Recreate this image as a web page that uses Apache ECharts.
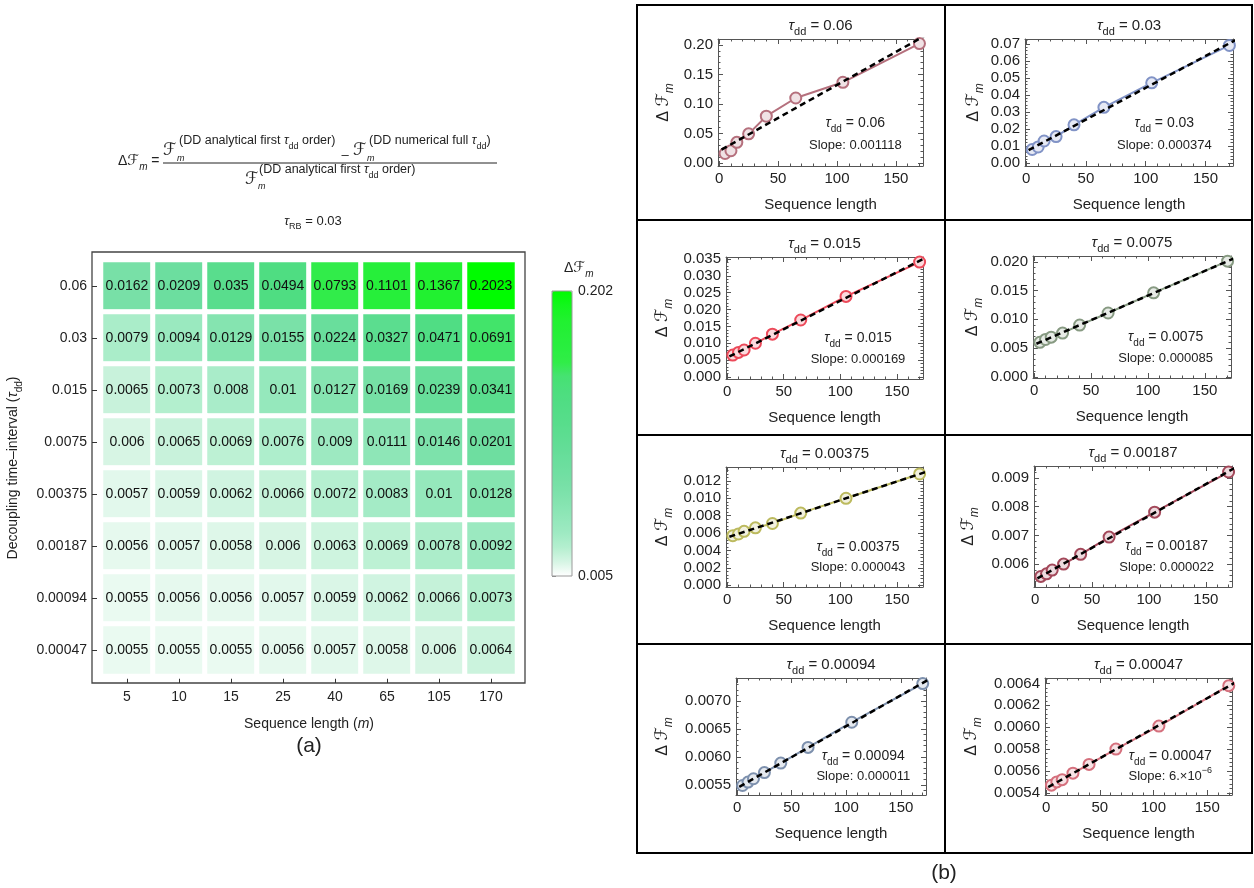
<!DOCTYPE html>
<html>
<head>
<meta charset="utf-8">
<script src="https://cdn.jsdelivr.net/npm/echarts@6/dist/echarts.min.js"></script>
<style>
html, body { margin: 0; background: #fff; }
#main { width: 1254px; height: 888px; }
</style>
</head>
<body>
<div id="main"></div>
<script>
var FF = '"Liberation Sans", Arial, Helvetica, sans-serif';
var SCRIPT = '"DejaVu Sans", "Liberation Sans", sans-serif';

// sequence lengths m and decoupling intervals (top to bottom)
var seqLen = [5, 10, 15, 25, 40, 65, 105, 170];
var tauLabels = ['0.06', '0.03', '0.015', '0.0075', '0.00375', '0.00187', '0.00094', '0.00047'];

// (a) values printed in the heatmap cells, one row per tau_dd
var heat006 = [0.0162, 0.0209, 0.035, 0.0494, 0.0793, 0.1101, 0.1367, 0.2023];
var heat003 = [0.0079, 0.0094, 0.0129, 0.0155, 0.0224, 0.0327, 0.0471, 0.0691];
var heat0015 = [0.0065, 0.0073, 0.008, 0.01, 0.0127, 0.0169, 0.0239, 0.0341];
var heat00075 = [0.006, 0.0065, 0.0069, 0.0076, 0.009, 0.0111, 0.0146, 0.0201];
var heat000375 = [0.0057, 0.0059, 0.0062, 0.0066, 0.0072, 0.0083, 0.01, 0.0128];
var heat000187 = [0.0056, 0.0057, 0.0058, 0.006, 0.0063, 0.0069, 0.0078, 0.0092];
var heat000094 = [0.0055, 0.0056, 0.0056, 0.0057, 0.0059, 0.0062, 0.0066, 0.0073];
var heat000047 = [0.0055, 0.0055, 0.0055, 0.0056, 0.0057, 0.0058, 0.006, 0.0064];
var heatRows = [heat006, heat003, heat0015, heat00075, heat000375, heat000187, heat000094, heat000047];
var cbTicks = [0.005, 0.202];

// (b) points of the small panels
var pts006 = [0.0162, 0.0209, 0.035, 0.0494, 0.0793, 0.1101, 0.1367, 0.2023];
var pts003 = [0.0079, 0.0094, 0.0129, 0.0155, 0.0224, 0.0327, 0.0471, 0.0691];
var pts0015 = [0.0065, 0.0073, 0.008, 0.01, 0.0127, 0.0169, 0.0239, 0.0341];
var pts00075 = [0.006, 0.0065, 0.0069, 0.0076, 0.009, 0.0111, 0.0146, 0.0201];
var pts000375 = [0.0057, 0.0059, 0.0062, 0.0066, 0.0071, 0.0083, 0.01, 0.0128];
var pts000187 = [0.00557, 0.00566, 0.00579, 0.006, 0.00634, 0.00694, 0.00781, 0.00921];
var pts000094 = [0.00549, 0.00555, 0.00561, 0.00572, 0.00589, 0.00617, 0.00662, 0.00731];
var pts000047 = [0.00547, 0.0055, 0.00552, 0.00558, 0.00566, 0.0058, 0.00601, 0.00638];
var panelPts = [pts006, pts003, pts0015, pts00075, pts000375, pts000187, pts000094, pts000047];
var slopeLabels = ['0.001118', '0.000374', '0.000169', '0.000085', '0.000043', '0.000022', '0.000011', '6.\u00d710{u|\u22126}'];

var xTickLabels = ['0', '50', '100', '150'];
var yTickLabels = [
  ['0.00', '0.05', '0.10', '0.15', '0.20'],
  ['0.00', '0.01', '0.02', '0.03', '0.04', '0.05', '0.06', '0.07'],
  ['0.000', '0.005', '0.010', '0.015', '0.020', '0.025', '0.030', '0.035'],
  ['0.000', '0.005', '0.010', '0.015', '0.020'],
  ['0.000', '0.002', '0.004', '0.006', '0.008', '0.010', '0.012'],
  ['0.006', '0.007', '0.008', '0.009'],
  ['0.0055', '0.0060', '0.0065', '0.0070'],
  ['0.0054', '0.0056', '0.0058', '0.0060', '0.0062', '0.0064']
];

// layout of the small panels: frame left, top, width, height
var panelBox = [
  [718, 39, 205, 127], [1025, 39, 208, 127],
  [726, 257, 197, 122], [1033, 256, 198, 122],
  [726, 467, 197, 120], [1034, 466, 198, 121],
  [736, 678, 190, 117], [1045, 678, 187, 117]
];
var yExtent = [[-0.005, 0.21], [-0.0018, 0.0729], [-0.0006, 0.0356], [-0.0002, 0.021],
  [-0.0002, 0.0136], [0.0052, 0.00942], [0.00532, 0.00741], [0.00538, 0.00645]];
var xExtent = [-1, 173];
var yNameGap = [42, 39, 51, 48, 51, 53, 61, 61];
var lineColors = ['#b5707d', '#8193c6', '#ec4a5a', '#879a82', '#bcba5e', '#a3485a', '#7d90ad', '#d5707d'];

var heatColors = ['#ffffff', '#d6f5e4', '#b4efcf', '#9feac3', '#92e7ba', '#86e4b1', '#7be1a9',
  '#72dfa3', '#6ade9d', '#63dd97', '#5cdd90', '#56dd8a', '#51dd85', '#4cde7e', '#46e272',
  '#30ed48', '#29ee3f', '#25ef38', '#20f12f', '#12f61c', '#00fc00'];

function rich(size) {
  var sub = Math.round(size * 0.72);
  return {
    i: { fontSize: size, fontFamily: FF, fontStyle: 'italic', lineHeight: size + 8, color: '#222' },
    d: { fontSize: size, fontFamily: FF, lineHeight: size + 8, color: '#222' },
    F: { fontSize: size + 1, fontFamily: SCRIPT, fontStyle: 'italic', lineHeight: size + 8, color: '#222' },
    s: { fontSize: sub, fontFamily: FF, lineHeight: sub, verticalAlign: 'bottom', color: '#222' },
    si: { fontSize: sub, fontFamily: FF, fontStyle: 'italic', lineHeight: sub, verticalAlign: 'bottom', color: '#222' },
    u: { fontSize: sub, fontFamily: FF, lineHeight: sub, verticalAlign: 'top', color: '#222' }
  };
}

function txt(text, x, y, size, align, extra) {
  var st = {
    text: text, x: x, y: y, fontSize: size, fontFamily: FF, fill: '#222',
    align: align || 'left', verticalAlign: 'middle',
    textAlign: align || 'left', textVerticalAlign: 'middle',
    lineHeight: size + 8, rich: rich(size)
  };
  if (extra) for (var k in extra) st[k] = extra[k];
  return { type: 'text', silent: true, style: st };
}

function minorTicks(major, lo, hi) {
  var step = (major[1] - major[0]) / 5, out = [];
  var k0 = Math.ceil((lo - major[0]) / step - 1e-9);
  for (var k = k0; major[0] + k * step <= hi + step * 1e-6; k++) {
    if (k % 5 !== 0) out.push(+(major[0] + k * step).toPrecision(10));
  }
  return out;
}

function lsq(xs, ys) {
  var n = xs.length, mx = 0, my = 0, sxx = 0, sxy = 0;
  for (var i = 0; i < n; i++) { mx += xs[i] / n; my += ys[i] / n; }
  for (var j = 0; j < n; j++) { sxx += (xs[j] - mx) * (xs[j] - mx); sxy += (xs[j] - mx) * (ys[j] - my); }
  var b = sxy / sxx;
  return { a: my - b * mx, b: b };
}

function tint(hex, t) {
  var r = parseInt(hex.substr(1, 2), 16), g = parseInt(hex.substr(3, 2), 16), b = parseInt(hex.substr(5, 2), 16);
  function m(c) { return Math.round(c + (255 - c) * t); }
  return 'rgb(' + m(r) + ',' + m(g) + ',' + m(b) + ')';
}

var grids = [], xAxes = [], yAxes = [], series = [], graphics = [];

// ---------- (a) heatmap ----------
grids.push({ left: 101, top: 260, width: 416, height: 416 });
xAxes.push({
  type: 'category', gridIndex: 0, data: seqLen.map(String), offset: 7,
  axisLine: { show: false },
  axisTick: { show: true, inside: true, length: 5, alignWithLabel: true, lineStyle: { color: '#333' } },
  axisLabel: { fontSize: 14, fontFamily: FF, color: '#222', margin: 7 },
  splitLine: { show: false },
  name: 'Sequence length ({i|m})', nameLocation: 'middle', nameGap: 30,
  nameTextStyle: { fontSize: 14, fontFamily: FF, color: '#222', lineHeight: 22, rich: rich(14) }
});
yAxes.push({
  type: 'category', gridIndex: 0, data: tauLabels.slice().reverse(), offset: 9,
  axisLine: { show: false },
  axisTick: { show: true, inside: true, length: 5, alignWithLabel: true, lineStyle: { color: '#333' } },
  axisLabel: { fontSize: 14, fontFamily: FF, color: '#222', margin: 5 },
  splitLine: { show: false },
  name: 'Decoupling time\u2013interval ({i|\u03c4}{s|dd})', nameLocation: 'middle', nameGap: 68, nameRotate: 90,
  nameTextStyle: { fontSize: 14, fontFamily: FF, color: '#222', lineHeight: 22, rich: rich(14) }
});
var heatData = [];
heatRows.forEach(function (row, r) {
  row.forEach(function (v, c) { heatData.push([c, 7 - r, Math.log10(v), v]); });
});
series.push({
  type: 'heatmap', xAxisIndex: 0, yAxisIndex: 0, data: heatData,
  itemStyle: { borderColor: '#fff', borderWidth: 5 },
  label: { show: true, fontSize: 14, fontFamily: FF, color: '#111', formatter: function (p) { return String(p.data[3]); } },
  emphasis: { disabled: true }
});
graphics.push({ type: 'rect', silent: true, shape: { x: 92, y: 252, width: 433, height: 431 }, style: { fill: 'none', stroke: '#444', lineWidth: 1.3 } });

// colour bar axis
grids.push({ left: 552, top: 291, width: 20, height: 285, show: true, borderColor: '#9a9a9a', borderWidth: 1, backgroundColor: 'transparent', z: 5 });
xAxes.push({ type: 'value', gridIndex: 1, show: false, min: 0, max: 1 });
yAxes.push({
  type: 'value', gridIndex: 1, position: 'right', min: cbTicks[0], max: cbTicks[1],
  axisLine: { show: false }, splitLine: { show: false },
  axisTick: { show: true, length: 4, customValues: cbTicks, lineStyle: { color: '#888' } },
  axisLabel: { customValues: cbTicks, fontSize: 14, fontFamily: FF, color: '#222', margin: 6, formatter: function (v) { return v.toFixed(3); } }
});

// ---------- (b) small panels ----------
var xMajor = xTickLabels.map(Number);
var xMinor = minorTicks(xMajor, xExtent[0], xExtent[1]);

function sideAxes(gi, pos, ext, major, minor, labels, nameOpt) {
  var base = { type: 'value', gridIndex: gi, position: pos, min: ext[0], max: ext[1], splitLine: { show: false } };
  var maj = Object.assign({}, base, {
    axisLine: { show: true, onZero: false, lineStyle: { color: '#555', width: 1 } },
    axisTick: { show: true, inside: true, length: 5, customValues: major, lineStyle: { color: '#555' } },
    axisLabel: labels ? {
      customValues: major, fontSize: 15, fontFamily: FF, color: '#222', margin: 5,
      formatter: function (v) {
        for (var k = 0; k < major.length; k++) if (Math.abs(major[k] - v) < 1e-12) return labels[k];
        return '';
      }
    } : { show: false }
  }, nameOpt || {});
  var mnr = Object.assign({}, base, {
    axisLine: { show: false, onZero: false },
    axisTick: { show: true, inside: true, length: 2.5, customValues: minor, lineStyle: { color: '#555' } },
    axisLabel: { show: false }
  });
  return [maj, mnr];
}

panelPts.forEach(function (pts, i) {
  var box = panelBox[i], gi = grids.length;
  grids.push({ left: box[0], top: box[1], width: box[2], height: box[3] });
  var yMajor = yTickLabels[i].map(Number);
  var yMinor = minorTicks(yMajor, yExtent[i][0], yExtent[i][1]);
  var xi = xAxes.length, yi = yAxes.length;
  xAxes.push.apply(xAxes, sideAxes(gi, 'bottom', xExtent, xMajor, xMinor, xTickLabels, {
    name: 'Sequence length', nameLocation: 'middle', nameGap: 31,
    nameTextStyle: { fontSize: 15, fontFamily: FF, color: '#222' }
  }));
  xAxes.push.apply(xAxes, sideAxes(gi, 'top', xExtent, xMajor, xMinor, null));
  yAxes.push.apply(yAxes, sideAxes(gi, 'left', yExtent[i], yMajor, yMinor, yTickLabels[i], {
    name: '{d|\u0394 }{F|\u2131}{si|m}', nameLocation: 'middle', nameGap: yNameGap[i], nameRotate: 90,
    nameTextStyle: { fontSize: 16, fontFamily: FF, color: '#222', lineHeight: 24, rich: rich(16) }
  }));
  yAxes.push.apply(yAxes, sideAxes(gi, 'right', yExtent[i], yMajor, yMinor, null));

  var c = lineColors[i];
  series.push({
    type: 'line', xAxisIndex: xi, yAxisIndex: yi, silent: true, z: 3,
    data: seqLen.map(function (x, k) { return [x, pts[k]]; }),
    symbol: 'circle', symbolSize: 11,
    lineStyle: { color: c, width: 2 },
    itemStyle: { color: tint(c, 0.8), borderColor: c, borderWidth: 2 }
  });
  var f = lsq(seqLen, pts);
  series.push({
    type: 'line', xAxisIndex: xi, yAxisIndex: yi, silent: true, z: 4,
    data: [[2, f.a + 2 * f.b], [178, f.a + 178 * f.b]],
    symbol: 'none', lineStyle: { color: '#000', width: 2.5, type: [6, 4] }
  });

  var cx = box[0] + box[2] / 2;
  graphics.push(txt('{i|\u03c4}{s|dd} = ' + tauLabels[i], cx, box[1] - 13, 15, 'center'));
  var ax = box[0] + box[2] * 0.67;
  graphics.push(txt('{i|\u03c4}{s|dd} = ' + tauLabels[i], ax, box[1] + box[3] * 0.665, 14, 'center'));
  graphics.push(txt('Slope: ' + slopeLabels[i], ax, box[1] + box[3] * 0.84, 13, 'center'));
});

// panel (b) borders
graphics.push({ type: 'rect', silent: true, shape: { x: 637, y: 5, width: 615, height: 848 }, style: { fill: 'none', stroke: '#000', lineWidth: 2 } });
graphics.push({ type: 'line', silent: true, shape: { x1: 945, y1: 5, x2: 945, y2: 853 }, style: { stroke: '#000', lineWidth: 2 } });
[220, 435, 644].forEach(function (y) {
  graphics.push({ type: 'line', silent: true, shape: { x1: 637, y1: y, x2: 1252, y2: y }, style: { stroke: '#000', lineWidth: 2 } });
});

// formula and captions
graphics.push(txt('{d|\u0394}{F|\u2131}{si|m}{d| =}', 118, 161, 14, 'left'));
graphics.push(txt('{F|\u2131}', 163, 151, 16, 'left'));
graphics.push(txt('{si|m}', 177, 158, 12, 'left', { fontStyle: 'italic' }));
graphics.push(txt('(DD analytical first {i|\u03c4}{s|dd} order)', 179, 141, 12.5, 'left'));
graphics.push(txt('\u2013', 345, 155, 13, 'center'));
graphics.push(txt('{F|\u2131}', 353, 151, 16, 'left'));
graphics.push(txt('{si|m}', 367, 158, 12, 'left', { fontStyle: 'italic' }));
graphics.push(txt('(DD numerical full {i|\u03c4}{s|dd})', 369, 141, 12.5, 'left'));
graphics.push({ type: 'line', silent: true, shape: { x1: 163, y1: 163, x2: 497, y2: 163 }, style: { stroke: '#222', lineWidth: 1 } });
graphics.push(txt('{F|\u2131}', 245, 180, 16, 'left'));
graphics.push(txt('{si|m}', 258, 186, 12, 'left', { fontStyle: 'italic' }));
graphics.push(txt('(DD analytical first {i|\u03c4}{s|dd} order)', 259, 170, 12.5, 'left'));
graphics.push(txt('{i|\u03c4}{s|RB} = 0.03', 313, 221, 13, 'center'));
graphics.push(txt('{d|\u0394}{F|\u2131}{si|m}', 564, 268, 14, 'left'));
graphics.push(txt('(a)', 309, 746, 21, 'center'));
graphics.push(txt('(b)', 944, 873, 21, 'center'));

var chart = echarts.init(document.getElementById('main'));
chart.setOption({
  animation: false,
  backgroundColor: '#fff',
  grid: grids,
  xAxis: xAxes,
  yAxis: yAxes,
  visualMap: {
    type: 'continuous', seriesIndex: 0, dimension: 2,
    min: Math.log10(cbTicks[0]), max: Math.log10(cbTicks[1]),
    inRange: { color: heatColors },
    orient: 'vertical', left: 552, top: 291, itemWidth: 20, itemHeight: 285,
    calculable: false, padding: 0, text: null, z: 4
  },
  series: series,
  graphic: { elements: graphics }
});
</script>
</body>
</html>
